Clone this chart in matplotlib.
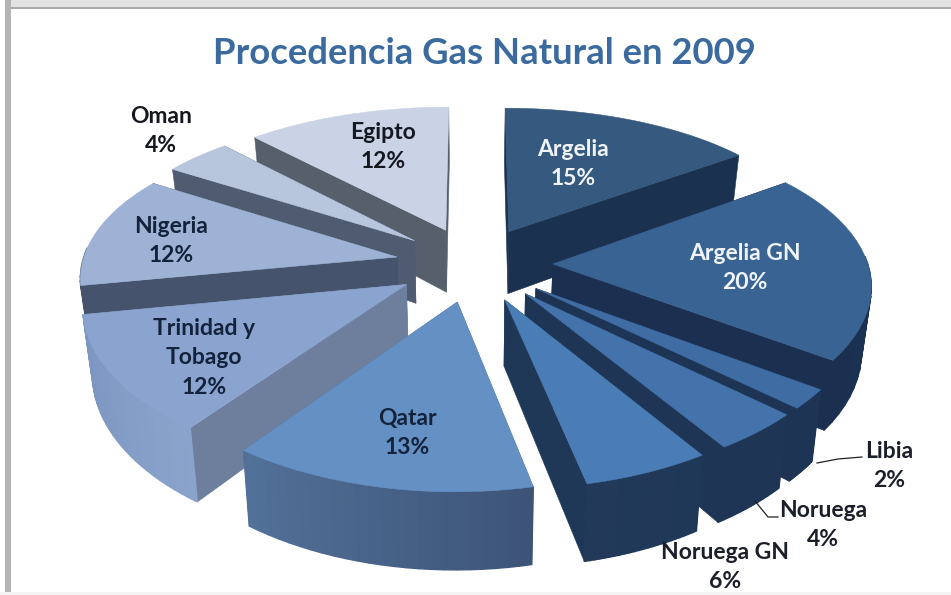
import numpy as np
import matplotlib
matplotlib.use("Agg")
import matplotlib.pyplot as plt
from matplotlib.patches import Polygon, Rectangle
from matplotlib.colors import to_rgb

# ---- data ----
categories = ["Argelia", "Argelia GN", "Libia", "Noruega", "Noruega GN",
              "Qatar", "Trinidad y\nTobago", "Nigeria", "Oman", "Egipto"]
shares = [15.0, 20.0, 2.0, 4.0, 5.6, 13.4, 12.0, 12.0, 4.0, 12.0]

# ---- style ----
top_colors = ["#35597f", "#396393", "#3f6ca3", "#4473ab", "#4a7cb6",
              "#6490c4", "#8ba4cf", "#9db2d4", "#b7c5dd", "#c9d3e5"]
side_colors = ["#1b3150", "#1b3050", "#1d3454", "#1e3556", "#203858",
               "#4f6d97", "#6d7f9c", "#45546c", "#4e5b70", "#575f6d"]
rim_from = ["#1b3150", "#1d3454", "#1d3454", "#1e3556", "#203858",
            "#3d5478", "#8aa3cb", "#45546c", "#8aa3cb", "#8aa3cb"]
rim_to = ["#1b3150", "#1b3050", "#1d3454", "#1e3556", "#22395a",
          "#527198", "#7c95c1", "#45546c", "#7c95c1", "#7c95c1"]
text_colors = ["#f0f4f8", "#f0f4f8"] + ["#1b1f2a"] * 3 + ["#14233c"] * 3 + ["#15181f"] * 2
label_pos = [(573, 164), (745, 268), (889, 466), (823, 525), (725, 567),
             (407, 433), (204, 358), (171, 241), (161, 131), (383, 147)]

CX, CY, A, B, KX, KY, DEPTH, EXPLODE = 474, 264, 315, 150, 0.12, 0.145, 64, 0.25


def project(X, Y, h=0.0):
    X, Y = np.asarray(X, float), np.asarray(Y, float)
    sx = 1 / (1 + KX * Y)
    sy = 1 / (1 + KY * Y)
    x = A * X * sx * (1 - 0.025 * h)
    y = -B * Y * sy + h * DEPTH * sy
    return CX + x, CY + y


fig = plt.figure(figsize=(9.51, 5.95), dpi=100)
ax = fig.add_axes([0, 0, 1, 1])
ax.set_xlim(0, 951)
ax.set_ylim(595, 0)
ax.axis("off")

# picture frame
ax.add_patch(Rectangle((0, 0), 951, 8, fc="#e2e2e2", ec="none", zorder=0))
ax.add_patch(Rectangle((0, 7), 951, 2, fc="#a8a8a8", ec="none", zorder=0))
ax.add_patch(Rectangle((0, 0), 5, 595, fc="#ffffff", ec="none", zorder=0))
ax.add_patch(Rectangle((5, 0), 6, 595, fc="#b4b4b4", ec="none", zorder=0))
ax.add_patch(Rectangle((0, 592), 951, 3, fc="#f4f4f4", ec="none", zorder=0))

total = sum(shares)
edges = np.cumsum([0] + shares) / total * 2 * np.pi
mids = (edges[:-1] + edges[1:]) / 2

order = np.argsort(np.cos(mids))[::-1]  # far slices first
z = 1
for i in order:
    t = np.linspace(edges[i], edges[i + 1], 25)
    ox, oy = EXPLODE * np.sin(mids[i]), EXPLODE * np.cos(mids[i])
    rx, ry = ox + np.sin(t), oy + np.cos(t)

    def quad(x0, y0, x1, y1):
        a = project([x0, x1], [y0, y1], 0)
        b = project([x1, x0], [y1, y0], 1)
        return np.column_stack([np.r_[a[0], b[0]], np.r_[a[1], b[1]]])

    # radial walls
    for x_e, y_e in [(rx[0], ry[0]), (rx[-1], ry[-1])]:
        ax.add_patch(Polygon(quad(ox, oy, x_e, y_e), fc=side_colors[i],
                             ec=side_colors[i], lw=0.4, zorder=z))
    # outer wall: only the part that faces the viewer
    c0, c1 = np.array(to_rgb(rim_from[i])), np.array(to_rgb(rim_to[i]))
    for k in range(len(t) - 1):
        if np.cos((t[k] + t[k + 1]) / 2) > 0.05:
            continue
        f = k / (len(t) - 2)
        col = c0 + (c1 - c0) * f
        ax.add_patch(Polygon(quad(rx[k], ry[k], rx[k + 1], ry[k + 1]), fc=col,
                             ec=col, lw=1.0, zorder=z + 0.2))
    px, py = project(np.r_[ox, rx], np.r_[oy, ry], 0)
    ax.add_patch(Polygon(np.column_stack([px, py]), fc=top_colors[i],
                         ec=top_colors[i], lw=0.4, zorder=z + 0.5))
    z += 1

font = ["Lato", "DejaVu Sans"]
for name, share, pos, col in zip(categories, shares, label_pos, text_colors):
    ax.text(pos[0], pos[1], f"{name}\n{round(share)}%", ha="center", va="center",
            fontsize=16.5, fontweight="bold", family=font, color=col,
            linespacing=1.48, zorder=50)

ax.text(484, 53, "Procedencia Gas Natural en 2009", ha="center", va="center",
        fontsize=26.3, fontweight="bold", family=font, color="#3a6a9e", zorder=50)

# leader lines
ax.plot([817, 838, 862], [463, 459, 457], color="#222222", lw=0.9, zorder=40)
ax.plot([755, 768, 778], [501, 517, 517], color="#222222", lw=0.9, zorder=40)

fig.savefig("out.png", dpi=100)
